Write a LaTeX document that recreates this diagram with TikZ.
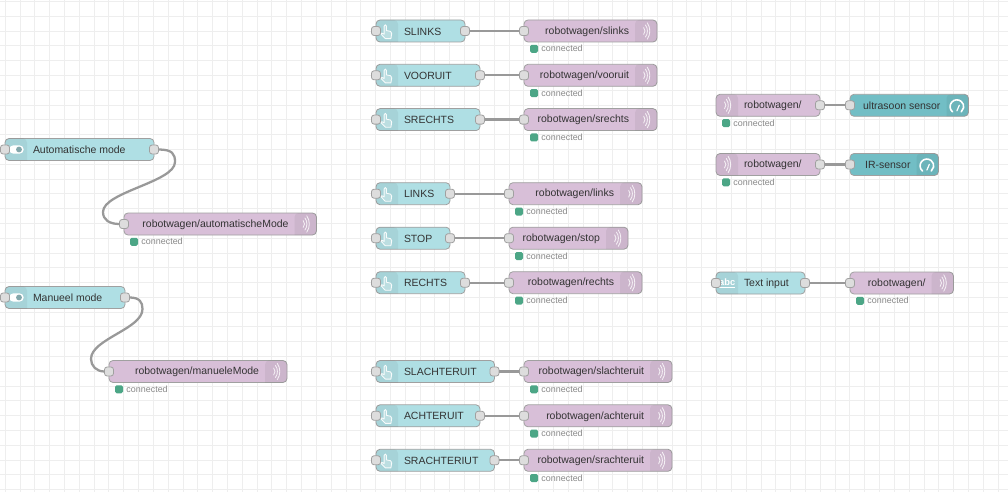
\documentclass[tikz,border=0pt]{standalone}
\usepackage{fontspec}
\setmainfont{Liberation Sans}
\definecolor{gridc}{HTML}{EEEEEE}
\definecolor{btn}{HTML}{AFDFE4}
\definecolor{mqtt}{HTML}{D8BFD8}
\definecolor{gauge}{HTML}{72BEC5}
\definecolor{bord}{HTML}{A0A0A0}
\definecolor{portc}{HTML}{DDDDDD}
\definecolor{wire}{HTML}{999999}
\definecolor{okc}{HTML}{4CA686}
\definecolor{txt}{HTML}{333333}
\definecolor{stat}{HTML}{888888}
\tikzset{
  x=0.75pt,y=-0.75pt,
  flowbox/.style={draw=bord,line width=0.6pt,rounded corners=3pt,minimum height=16.5pt,inner sep=0pt,outer sep=0pt},
  portbox/.style={draw=bord,fill=portc,line width=0.6pt,rounded corners=2pt,minimum width=6.8pt,minimum height=6.8pt,inner sep=0pt,outer sep=0pt},
  flowlabel/.style={text=txt,font=\fontsize{7.85pt}{10pt}\selectfont,inner sep=0pt,outer sep=0pt},
  statlabel/.style={text=stat,font=\fontsize{6.7pt}{8pt}\selectfont,inner sep=0pt,outer sep=0pt,anchor=west},
  okdot/.style={fill=okc,rounded corners=1.2pt,minimum width=6pt,minimum height=6pt,inner sep=0pt,outer sep=0pt},
  wireline/.style={draw=wire,line width=1.7pt},
  iconline/.style={draw=white,line width=0.65pt,line cap=round,line join=round},
  secshade/.style={fill=black,fill opacity=0.05}
}
% id, x1, x2, y, colour, icon side (L/R), label
\newcommand{\wnode}[7]{%
  \pgfmathsetmacro{\boxw}{(#3-#2)*0.75}%
  \node[flowbox,fill=#5,minimum width=\boxw pt] (#1) at ({(#2+#3)/2},#4) {};%
  \if#6L%
    \fill[secshade] ([xshift=16.5pt]#1.south west) [rounded corners=3pt] -- (#1.south west) -- (#1.north west) -- ([xshift=16.5pt]#1.north west) [sharp corners] -- cycle;%
    \node[flowlabel,anchor=west] (#1-t) at ([xshift=21pt,yshift=-0.4pt]#1.west) {#7};%
  \else%
    \fill[secshade] ([xshift=-16.5pt]#1.south east) [rounded corners=3pt] -- (#1.south east) -- (#1.north east) -- ([xshift=-16.5pt]#1.north east) [sharp corners] -- cycle;%
    \node[flowlabel,anchor=east] (#1-t) at ([xshift=-21pt,yshift=-0.4pt]#1.east) {#7};%
  \fi}
\newcommand{\inport}[1]{\node[portbox] (#1-in) at (#1.west) {};}
\newcommand{\outport}[1]{\node[portbox] (#1-out) at (#1.east) {};}
\newcommand{\connstat}[1]{%
  \node[okdot] (#1-dot) at ([xshift=7.5pt,yshift=-5.1pt]#1.south west) {};%
  \node[statlabel] (#1-st) at ([xshift=2.6pt]#1-dot.east) {connected};}
\newcommand{\wifiat}[1]{%
  \begin{scope}[shift={(#1)},iconline,draw opacity=0.8]
    \draw (-2.4,-3.4) .. controls (-0.6,-1.5) and (-0.6,1.5) .. (-2.4,3.4);
    \draw (-0.6,-6) .. controls (2,-2.5) and (2,2.5) .. (-0.6,6);
    \draw (1.2,-8.2) .. controls (4.6,-3.5) and (4.6,3.5) .. (1.2,8.2);
  \end{scope}}
\newcommand{\wifiR}[1]{\wifiat{[xshift=-8.2pt]#1.east}}
\newcommand{\wifiL}[1]{\wifiat{[xshift=8.2pt]#1.west}}
\newcommand{\handicon}[1]{%
  \begin{scope}[shift={([xshift=7.6pt,yshift=-0.6pt]#1.west)},scale=0.8,iconline,draw opacity=0.9]
    \draw[fill=white,fill opacity=0.25] (-2.5,3) -- (-2.5,-7) .. controls (-2.5,-9.4) and (0.5,-9.4) .. (0.5,-7) -- (0.5,-1.5) -- (5.5,-0.5) .. controls (7,0) and (7,1) .. (7,2) -- (6,8.5) -- (-1,8.5) -- (-6.5,2.8) .. controls (-7,1.2) and (-4.5,1) .. (-2.5,3) -- cycle;
  \end{scope}}
\newcommand{\toggleicon}[1]{%
  \node[fill=white,rounded corners=3pt,minimum width=10.8pt,minimum height=6.2pt,inner sep=0pt] (#1-tg) at ([xshift=8.6pt]#1.west) {};%
  \fill[btn!75!black] ([xshift=1.9pt]#1-tg.center) circle (2.2pt);}
\newcommand{\gaugeicon}[1]{%
  \begin{scope}[shift={([xshift=-8.7pt,yshift=-1pt]#1.east)}]
    \draw[white,line width=1.2pt,line cap=round] (-4.4,5.2) arc[start angle=130,end angle=410,radius=6.8];
    \draw[white,line width=0.9pt,line cap=round] (0,4.2) -- (2.4,-1.4);
  \end{scope}}
\begin{document}
\begin{tikzpicture}
\useasboundingbox (0,0) rectangle (1008,492);
\fill[white] (0,0) rectangle (1008,492);
\foreach \k in {0,...,67} \draw[gridc,line width=0.75pt] ({5.2+14.82*\k},0) -- ({5.2+14.82*\k},492);
\foreach \k in {0,...,33} \draw[gridc,line width=0.75pt] (0,{1.6+14.79*\k}) -- (1008,{1.6+14.79*\k});

% left column
\wnode{am}{5}{154}{149.5}{btn}{L}{Automatische mode}
\wnode{amq}{124}{316.5}{224}{mqtt}{R}{robotwagen/automatischeMode}
\wnode{mm}{5}{125}{297.5}{btn}{L}{Manueel mode}
\wnode{mmq}{109}{287}{371.5}{mqtt}{R}{robotwagen/manueleMode}
% buttons and their outputs
\wnode{b1}{376}{465}{31}{btn}{L}{SLINKS}
\wnode{q1}{524}{657}{31}{mqtt}{R}{robotwagen/slinks}
\wnode{b2}{376}{480}{75.3}{btn}{L}{VOORUIT}
\wnode{q2}{524}{657}{75.3}{mqtt}{R}{robotwagen/vooruit}
\wnode{b3}{376}{480}{119.6}{btn}{L}{SRECHTS}
\wnode{q3}{524}{657}{119.6}{mqtt}{R}{robotwagen/srechts}
\wnode{b4}{376}{450}{193.7}{btn}{L}{LINKS}
\wnode{q4}{509}{642}{193.7}{mqtt}{R}{robotwagen/links}
\wnode{b5}{376}{450}{238.2}{btn}{L}{STOP}
\wnode{q5}{509}{628}{238.2}{mqtt}{R}{robotwagen/stop}
\wnode{b6}{376}{465}{282.7}{btn}{L}{RECHTS}
\wnode{q6}{509}{642}{282.7}{mqtt}{R}{robotwagen/rechts}
\wnode{b7}{376}{494.5}{371.5}{btn}{L}{SLACHTERUIT}
\wnode{q7}{524}{672}{371.5}{mqtt}{R}{robotwagen/slachteruit}
\wnode{b8}{376}{480}{415.8}{btn}{L}{ACHTERUIT}
\wnode{q8}{524}{672}{415.8}{mqtt}{R}{robotwagen/achteruit}
\wnode{b9}{376}{494.5}{460.3}{btn}{L}{SRACHTERIUT}
\wnode{q9}{524}{672}{460.3}{mqtt}{R}{robotwagen/srachteruit}
% right column
\wnode{r1}{716}{820}{105.3}{mqtt}{L}{robotwagen/}
\wnode{g1}{850}{968.5}{105.3}{gauge}{R}{ultrasoon sensor}
\wnode{r2}{716}{820}{164.5}{mqtt}{L}{robotwagen/}
\wnode{g2}{850}{938.5}{164.5}{gauge}{R}{IR-sensor}
\wnode{ti}{716}{805}{283}{btn}{L}{Text input}
\wnode{q0}{850}{953.5}{283}{mqtt}{R}{robotwagen/}

% icons
\toggleicon{am}\toggleicon{mm}
\foreach \n in {b1,b2,b3,b4,b5,b6,b7,b8,b9} {\handicon{\n}}
\foreach \n in {amq,mmq,q1,q2,q3,q4,q5,q6,q7,q8,q9,q0} {\wifiR{\n}}
\foreach \n in {r1,r2} {\wifiL{\n}}
\gaugeicon{g1}\gaugeicon{g2}
\node[text=white,font=\bfseries\fontsize{7pt}{8pt}\selectfont,inner sep=0pt] (ti-abc) at ([xshift=8.4pt]ti.west) {\underline{abc}};

% ports
\foreach \n in {am,mm,b1,b2,b3,b4,b5,b6,b7,b8,b9,ti} {\inport{\n}\outport{\n}}
\foreach \n in {amq,mmq,q1,q2,q3,q4,q5,q6,q7,q8,q9,q0,g1,g2} {\inport{\n}}
\foreach \n in {r1,r2} {\outport{\n}}

% status
\foreach \n in {amq,mmq,q1,q2,q3,q4,q5,q6,q7,q8,q9,q0,r1,r2} {\connstat{\n}}

% connectors
\foreach \i in {1,...,9} {\draw[wireline] (b\i-out.east) -- (q\i-in.west);}
\draw[wireline] (r1-out.east) -- (g1-in.west);
\draw[wireline] (r2-out.east) -- (g2-in.west);
\draw[wireline] (ti-out.east) -- (q0-in.west);
\coordinate (am-bendA) at (175,162);
\coordinate (am-bendB) at (103,212);
\draw[wireline] (am-out.east) .. controls +(14,0) and +(0,-8) .. (am-bendA) .. controls +(0,20) and +(0,-20) .. (am-bendB) .. controls +(0,8) and +(-10,0) .. (amq-in.west);
\coordinate (mm-bendA) at (142.5,309);
\coordinate (mm-bendB) at (91,359);
\draw[wireline] (mm-out.east) .. controls +(10,0) and +(0,-7) .. (mm-bendA) .. controls +(0,20) and +(0,-20) .. (mm-bendB) .. controls +(0,7) and +(-8,0) .. (mmq-in.west);
\end{tikzpicture}
\end{document}
